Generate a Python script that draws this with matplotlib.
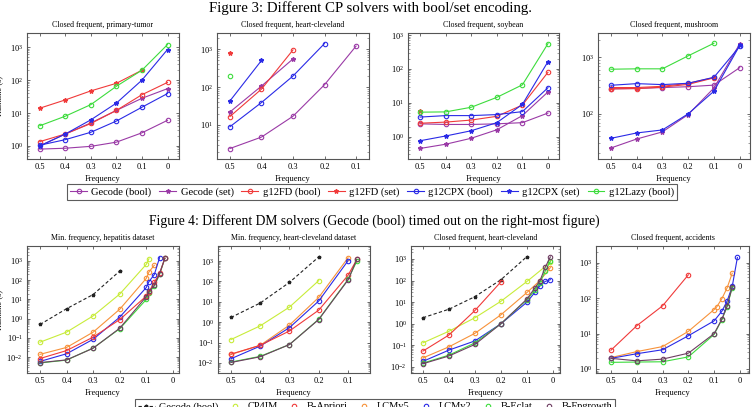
import matplotlib
matplotlib.use('Agg')
import matplotlib.pyplot as plt
from matplotlib.lines import Line2D

plt.rcParams['font.family'] = ['Liberation Serif', 'DejaVu Serif']
plt.rcParams['mathtext.fontset'] = 'stix'

# ---- Figure 3 data (runtime in s vs. frequency) ----
freq6 = [0.5, 0.4, 0.3, 0.2, 0.1, 0.0]
freq5 = [0.5, 0.4, 0.3, 0.2, 0.1]

pt_gecode_bool = [0.8, 0.85, 0.97, 1.3, 2.5, 6]
pt_gecode_set = [1.0, 2.3, 5, 12, 28, 55]
pt_fd_bool = [1.35, 2.3, 4.8, 12, 36, 85]
pt_fd_set = [14, 25, 47, 80, 200]
pt_cpx_bool = [1.05, 1.55, 2.6, 5.7, 15, 39]
pt_cpx_set = [1.0, 2.3, 6.2, 20, 100, 850]
pt_lazy = [4.1, 8, 18, 65, 200, 1200]

hc_gecode_bool = [2.4, 4.8, 17, 115, 1200]
hc_gecode_set = [22, 106, 550]
hc_fd_bool = [16.7, 88, 950]
hc_fd_set = [800]
hc_cpx_bool = [9, 39, 195, 1400]
hc_cpx_set = [43, 500]
hc_lazy = [195]

soy_gecode_bool = [2.4, 2.3, 2.3, 2.4, 2.6, 5.0]
soy_gecode_set = [0.45, 0.6, 0.9, 1.6, 4.2, 21]
soy_fd_bool = [2.5, 2.7, 3.1, 4.0, 8.6, 80]
soy_fd_set = [5.6]
soy_cpx_bool = [3.8, 4.2, 4.2, 4.5, 5.5, 28]
soy_cpx_set = [0.76, 1.05, 1.5, 2.6, 9, 165]
soy_lazy = [5.3, 5.4, 7.4, 14.5, 34, 560]

mush_gecode_bool = [275, 280, 290, 300, 320, 650]
mush_gecode_set = [25, 36, 48, 97, 285, 1700]
mush_fd_bool = [275, 278, 295, 330, 430]
mush_fd_set = [290, 290, 305, 345, 435]
mush_cpx_bool = [318, 340, 327, 345, 440, 1540]
mush_cpx_set = [37, 46, 52, 100, 250, 1600]
mush_lazy = [610, 620, 620, 1050, 1750]

# ---- Figure 4 data ----
hep_gecode_x = [0.5, 0.4, 0.3, 0.2]
hep_gecode = [0.5, 3.3, 18, 300]
hep_cp4im_x = [0.5, 0.4, 0.3, 0.2, 0.1, 0.09]
hep_cp4im = [0.06, 0.2, 1.4, 19, 670, 1300]
hep_lcm5_x = [0.5, 0.4, 0.3, 0.2, 0.1, 0.09, 0.07]
hep_lcm5 = [0.014, 0.032, 0.2, 3.1, 125, 270, 600]
hep_lcm2_x = [0.5, 0.4, 0.3, 0.2, 0.1, 0.09, 0.07, 0.05]
hep_lcm2 = [0.006, 0.015, 0.085, 1.2, 42, 85, 195, 1500]
hep_all_x = [0.5, 0.4, 0.3, 0.2, 0.1, 0.09, 0.07, 0.05, 0.03]
hep_apriori = [0.0085, 0.022, 0.11, 0.9, 15, 25, 78, 230, 1400]
hep_eclat = [0.005, 0.007, 0.03, 0.3, 10, 22, 50, 200, 1400]
hep_fp = [0.0052, 0.0072, 0.029, 0.32, 14, 26, 54, 220, 1400]

hcd_short_x = [0.5, 0.4, 0.3, 0.2]
hcd_gecode = [1.7, 8.7, 90, 1600]
hcd_cp4im = [0.14, 0.66, 5.5, 110]
hcd_mid_x = [0.5, 0.4, 0.3, 0.2, 0.1]
hcd_lcm5 = [0.026, 0.073, 0.72, 16.5, 1450]
hcd_lcm2 = [0.016, 0.067, 0.54, 11, 1040]
hcd_long_x = [0.5, 0.4, 0.3, 0.2, 0.1, 0.07]
hcd_apriori = [0.027, 0.073, 0.37, 3.9, 200, 1200]
hcd_eclat = [0.011, 0.021, 0.08, 1.4, 125, 1000]
hcd_fp = [0.0105, 0.02, 0.08, 1.35, 118, 1200]

chc_gecode_x = [0.5, 0.4, 0.3, 0.2, 0.1]
chc_gecode = [1.9, 4.7, 18, 110, 1300]
chc_apriori_x = [0.5, 0.4, 0.3, 0.2]
chc_apriori = [0.054, 0.3, 4.1, 88]
chc_cp4im_x = [0.5, 0.4, 0.3, 0.2, 0.1, 0.01]
chc_cp4im = [0.13, 0.45, 1.9, 11, 91, 700]
chc_lcm5_x = [0.5, 0.4, 0.3, 0.2, 0.1, 0.05, 0.01]
chc_lcm5 = [0.026, 0.085, 0.36, 2.6, 28, 100, 400]
chc_all_x = [0.5, 0.4, 0.3, 0.2, 0.1, 0.07, 0.05, 0.03, 0.01]
chc_lcm2 = [0.018, 0.06, 0.16, 1.0, 10, 28, 57, 91, 110]
chc_eclat = [0.015, 0.035, 0.13, 1.0, 13, 35, 80, 270, 800]
chc_fp = [0.014, 0.032, 0.11, 1.0, 14, 45, 98, 410, 1250]

acc_apriori_x = [0.5, 0.4, 0.3, 0.2]
acc_apriori = [3.4, 16.7, 61, 460]
acc_lcm5_x = [0.5, 0.4, 0.3, 0.2, 0.1, 0.09, 0.07, 0.05, 0.03]
acc_lcm5 = [2.1, 3.1, 4.3, 11.6, 48, 57, 98, 195, 510]
acc_lcm2_x = [0.5, 0.4, 0.3, 0.2, 0.1, 0.07, 0.05, 0.03, 0.01]
acc_lcm2 = [2.0, 2.7, 3.5, 8.7, 23, 43, 83, 215, 1420]
acc_ef_x = [0.5, 0.4, 0.3, 0.2, 0.1, 0.07, 0.05, 0.03]
acc_eclat = [1.54, 1.57, 1.6, 2.2, 9.5, 25, 58, 200]
acc_fp = [2.0, 1.7, 1.9, 2.8, 10, 25.6, 60, 210]

cp_names = ['Gecode (bool)', 'Gecode (set)', 'g12FD (bool)', 'g12FD (set)',
            'g12CPX (bool)', 'g12CPX (set)', 'g12Lazy (bool)']
dm_names = ['Gecode (bool)', 'CP4IM', 'B-Apriori', 'LCMv5', 'LCMv2', 'B-Eclat', 'B-Fpgrowth']

PURPLE = '#9a3aa6'
RED = '#f03a3a'
BLUE = '#2a2ae6'
GREEN = '#3ddc3d'
cp_styles = {
    'Gecode (bool)': (PURPLE, 'o'), 'Gecode (set)': (PURPLE, '*'),
    'g12FD (bool)': (RED, 'o'), 'g12FD (set)': (RED, '*'),
    'g12CPX (bool)': (BLUE, 'o'), 'g12CPX (set)': (BLUE, '*'),
    'g12Lazy (bool)': (GREEN, 'o'),
}
dm_styles = {
    'Gecode (bool)': '#222222', 'CP4IM': '#c8ec3a', 'B-Apriori': RED,
    'LCMv5': '#f7923a', 'LCMv2': BLUE, 'B-Eclat': GREEN, 'B-Fpgrowth': '#6e3e62',
}


def cp_line(ax, name, y):
    c, m = cp_styles[name]
    x = freq6[:len(y)]
    if m == 'o':
        ax.plot(x, y, color=c, lw=0.8, marker='o', ms=3.2, mfc='none', mew=0.8)
    else:
        ax.plot(x, y, color=c, lw=0.8, marker='*', ms=3.2)


def dm_line(ax, name, x, y):
    c = dm_styles[name]
    if name == 'Gecode (bool)':
        ax.plot(x, y, color=c, lw=0.8, ls=(0, (3, 2)), marker='*', ms=2.5)
    else:
        ax.plot(x, y, color=c, lw=0.8, marker='o', ms=3.2, mfc='none', mew=0.8)


def style(ax, title, xlim, ylim, ticks):
    ax.set_yscale('log')
    ax.set_xlim(*xlim)
    ax.set_ylim(*ylim)
    ax.set_xticks(ticks)
    ax.set_xticklabels(['0' if t == 0 else '%.1f' % t for t in ticks])
    ax.set_title(title, fontsize=5.7, pad=4)
    ax.set_xlabel('Frequency', fontsize=6, labelpad=3)
    ax.tick_params(which='both', direction='in', top=True, right=True,
                   labelsize=6, color='#555555', pad=3)
    ax.tick_params(which='major', length=2.5, width=0.6)
    ax.tick_params(which='minor', length=1.3, width=0.4)
    for s in ax.spines.values():
        s.set_color('#555555')
        s.set_linewidth(0.8)


fig = plt.figure(figsize=(7.53, 4.07), dpi=100)

top_y, top_h = 1 - 159 / 407, 126 / 407
ax1 = fig.add_axes([27 / 753, top_y, 152 / 753, top_h])
ax2 = fig.add_axes([217 / 753, top_y, 152 / 753, top_h])
ax3 = fig.add_axes([408 / 753, top_y, 151 / 753, top_h])
ax4 = fig.add_axes([598 / 753, top_y, 152 / 753, top_h])

for n, y in zip(cp_names, [pt_gecode_bool, pt_gecode_set, pt_fd_bool, pt_fd_set,
                           pt_cpx_bool, pt_cpx_set, pt_lazy]):
    cp_line(ax1, n, y)
for n, y in zip(cp_names, [hc_gecode_bool, hc_gecode_set, hc_fd_bool, hc_fd_set,
                           hc_cpx_bool, hc_cpx_set, hc_lazy]):
    cp_line(ax2, n, y)
for n, y in zip(cp_names, [soy_gecode_bool, soy_gecode_set, soy_fd_bool, soy_fd_set,
                           soy_cpx_bool, soy_cpx_set, soy_lazy]):
    cp_line(ax3, n, y)
for n, y in zip(cp_names, [mush_gecode_bool, mush_gecode_set, mush_fd_bool, mush_fd_set,
                           mush_cpx_bool, mush_cpx_set, mush_lazy]):
    cp_line(ax4, n, y)

style(ax1, 'Closed frequent, primary-tumor', (0.55, -0.045), (0.4, 2700), freq6)
style(ax2, 'Closed frequent, heart-cleveland', (0.541, 0.059), (1.27, 2650), freq5)
style(ax3, 'Closed frequent, soybean', (0.547, -0.043), (0.22, 1150), freq6)
style(ax4, 'Closed frequent, mushroom', (0.55, -0.04), (16, 2650), freq6)

bot_y, bot_h = 1 - 373 / 407, 127 / 407
bx1 = fig.add_axes([27 / 753, bot_y, 152 / 753, bot_h])
bx2 = fig.add_axes([218 / 753, bot_y, 152 / 753, bot_h])
bx3 = fig.add_axes([411 / 753, bot_y, 149 / 753, bot_h])
bx4 = fig.add_axes([596 / 753, bot_y, 153 / 753, bot_h])

dm_line(bx1, 'Gecode (bool)', hep_gecode_x, hep_gecode)
dm_line(bx1, 'CP4IM', hep_cp4im_x, hep_cp4im)
dm_line(bx1, 'LCMv5', hep_lcm5_x, hep_lcm5)
dm_line(bx1, 'LCMv2', hep_lcm2_x, hep_lcm2)
dm_line(bx1, 'B-Eclat', hep_all_x, hep_eclat)
dm_line(bx1, 'B-Apriori', hep_all_x, hep_apriori)
dm_line(bx1, 'B-Fpgrowth', hep_all_x, hep_fp)

dm_line(bx2, 'Gecode (bool)', hcd_short_x, hcd_gecode)
dm_line(bx2, 'CP4IM', hcd_short_x, hcd_cp4im)
dm_line(bx2, 'LCMv5', hcd_mid_x, hcd_lcm5)
dm_line(bx2, 'LCMv2', hcd_mid_x, hcd_lcm2)
dm_line(bx2, 'B-Apriori', hcd_long_x, hcd_apriori)
dm_line(bx2, 'B-Eclat', hcd_long_x, hcd_eclat)
dm_line(bx2, 'B-Fpgrowth', hcd_long_x, hcd_fp)

dm_line(bx3, 'Gecode (bool)', chc_gecode_x, chc_gecode)
dm_line(bx3, 'CP4IM', chc_cp4im_x, chc_cp4im)
dm_line(bx3, 'B-Apriori', chc_apriori_x, chc_apriori)
dm_line(bx3, 'LCMv5', chc_lcm5_x, chc_lcm5)
dm_line(bx3, 'LCMv2', chc_all_x, chc_lcm2)
dm_line(bx3, 'B-Eclat', chc_all_x, chc_eclat)
dm_line(bx3, 'B-Fpgrowth', chc_all_x, chc_fp)

dm_line(bx4, 'B-Apriori', acc_apriori_x, acc_apriori)
dm_line(bx4, 'LCMv5', acc_lcm5_x, acc_lcm5)
dm_line(bx4, 'LCMv2', acc_lcm2_x, acc_lcm2)
dm_line(bx4, 'B-Eclat', acc_ef_x, acc_eclat)
dm_line(bx4, 'B-Fpgrowth', acc_ef_x, acc_fp)

style(bx1, 'Min. frequency, hepatitis dataset', (0.549, -0.023), (0.0015, 6000), freq6)
style(bx2, 'Min. frequency, heart-cleveland dataset', (0.544, 0.025), (0.0032, 5500), freq5)
style(bx3, 'Closed frequent, heart-cleveland', (0.546, -0.027), (0.0052, 4000), freq6)
style(bx4, 'Closed frequent, accidents', (0.558, -0.035), (0.77, 3000), freq6)

for ax in (ax1, bx1):
    ax.set_ylabel('Runtime (s)', fontsize=6)
    ax.yaxis.set_label_coords(-0.155, 0.5)

fig.text(0.492, 1 - 8 / 407, 'Figure 3: Different CP solvers with bool/set encoding.',
         ha='center', va='center', fontsize=10.7)
fig.text(0.497, 1 - 221 / 407,
         'Figure 4: Different DM solvers (Gecode (bool) timed out on the right-most figure)',
         ha='center', va='center', fontsize=9.8)

cp_handles = []
for n in cp_names:
    c, m = cp_styles[n]
    if m == 'o':
        cp_handles.append(Line2D([], [], color=c, lw=0.8, marker='o', ms=3.2, mfc='none', mew=0.8))
    else:
        cp_handles.append(Line2D([], [], color=c, lw=0.8, marker='*', ms=3.2))
leg1 = fig.legend(cp_handles, cp_names, loc='upper center', bbox_to_anchor=(372 / 753, 1 - 184 / 407),
                  ncol=7, fontsize=7.6, frameon=True, fancybox=False, handlelength=1.6,
                  handletextpad=0.4, columnspacing=0.75, borderpad=0.3, borderaxespad=0)
leg1.get_frame().set_edgecolor('#333333')
leg1.get_frame().set_linewidth(0.8)

dm_handles = []
for n in dm_names:
    c = dm_styles[n]
    if n == 'Gecode (bool)':
        dm_handles.append(Line2D([], [], color=c, lw=0.8, ls=(0, (3, 2)), marker='*', ms=2.5))
    else:
        dm_handles.append(Line2D([], [], color=c, lw=0, marker='o', ms=3.2, mfc='none', mew=0.8))
leg2 = fig.legend(dm_handles, dm_names, loc='upper center', bbox_to_anchor=(375 / 753, 1 - 399 / 407),
                  ncol=7, fontsize=7.5, frameon=True, fancybox=False, handlelength=1.6,
                  handletextpad=0.4, columnspacing=0.8, borderpad=0.3, borderaxespad=0)
leg2.get_frame().set_edgecolor('#333333')
leg2.get_frame().set_linewidth(0.8)

fig.savefig('out.png', dpi=100)
